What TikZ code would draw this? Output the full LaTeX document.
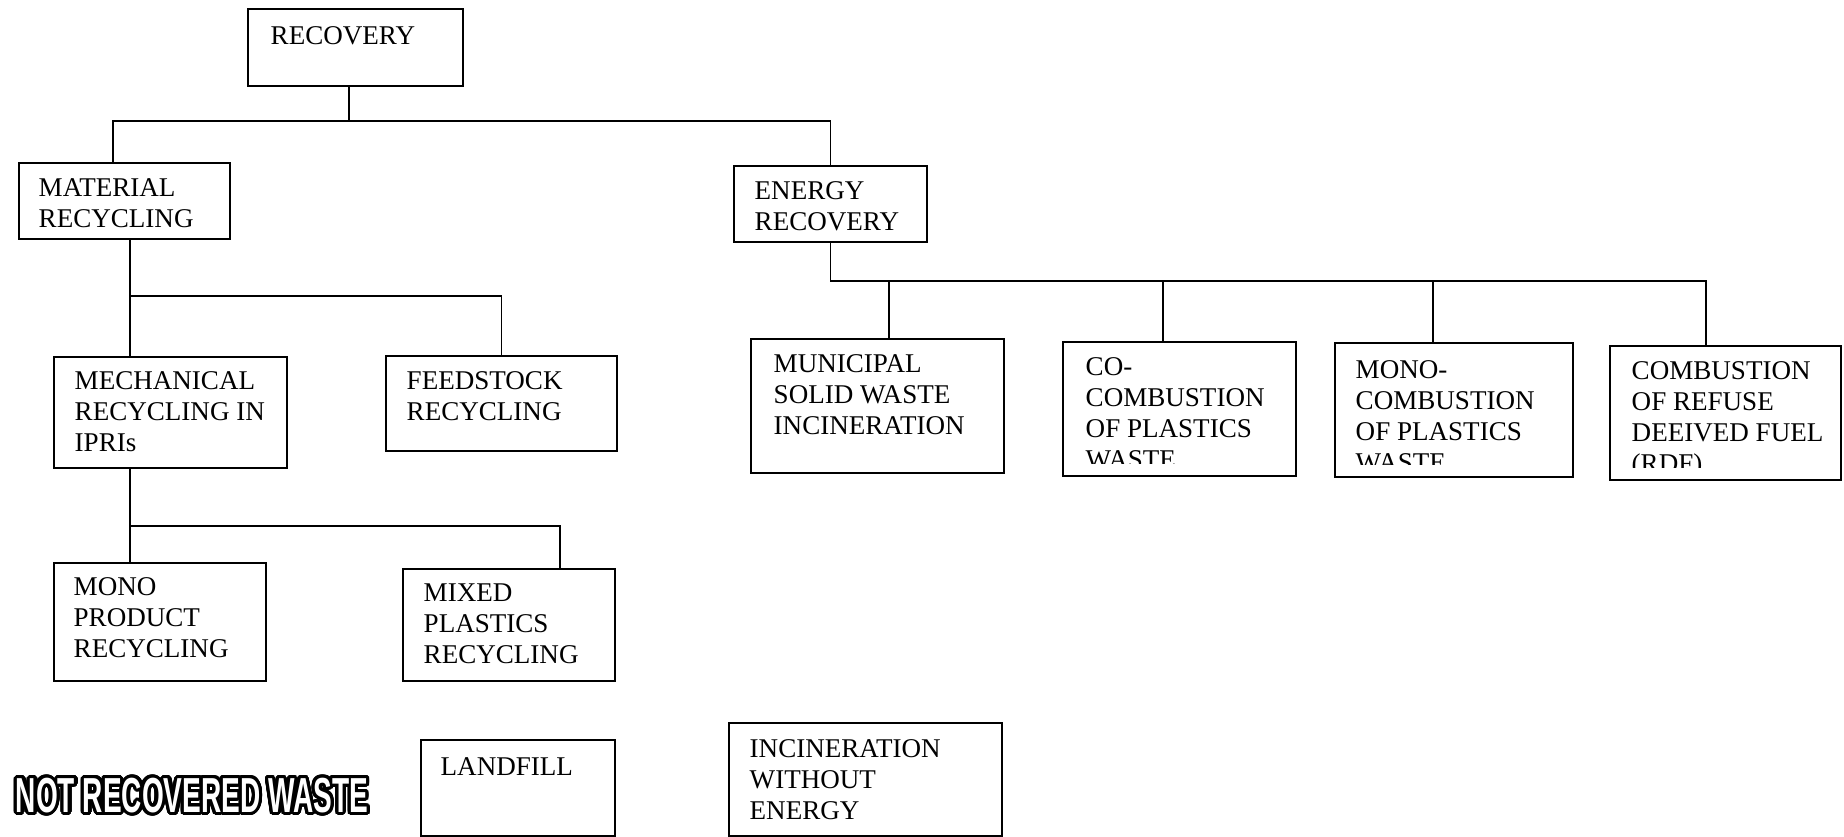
\documentclass[tikz,border=0pt]{standalone}
\usepackage{fontspec}
\usepackage{xcolor}
\usepackage[copies]{contour}
\usepackage{tikz}
\usetikzlibrary{positioning}
\setmainfont{Liberation Serif}
\newfontfamily\stampfont{Liberation Sans}[FakeStretch=0.57]
\contourlength{0.9pt}
\contournumber{32}

\tikzset{
	box/.style={draw=black, line width=0.55pt, anchor=north west, inner sep=0pt},
	lbl/.style={font=\fontsize{7.7pt}{8.8pt}\selectfont, align=left, inner sep=0pt},
	link/.style={black, line width=0.55pt},
}

\begin{document}
\begin{tikzpicture}
	\useasboundingbox (0,0) rectangle (18.44,8.37);

	% top of the tree
	\node[box, minimum width=2.15cm, minimum height=0.77cm] (rec) at (2.47,8.29) {};
	\node[lbl, below right=0.18cm and 0.23cm of rec.north west] (rec-t) {RECOVERY};

	\node[box, minimum width=2.11cm, minimum height=0.76cm] (mat) at (0.18,6.75) {};
	\node[lbl, below right=0.16cm and 0.20cm of mat.north west] (mat-t) {MATERIAL\\RECYCLING};
	\node[box, minimum width=1.93cm, minimum height=0.76cm] (ene) at (7.33,6.72) {};
	\node[lbl, below right=0.16cm and 0.21cm of ene.north west] (ene-t) {ENERGY\\RECOVERY};

	% material side
	\node[box, minimum width=2.33cm, minimum height=1.11cm] (mech) at (0.53,4.81) {};
	\node[lbl, below right=0.15cm and 0.21cm of mech.north west] (mech-t) {MECHANICAL\\RECYCLING IN\\IPRIs};
	\node[box, minimum width=2.31cm, minimum height=0.95cm] (feed) at (3.85,4.82) {};
	\node[lbl, below right=0.16cm and 0.21cm of feed.north west] (feed-t) {FEEDSTOCK\\RECYCLING};
	\node[box, minimum width=2.12cm, minimum height=1.18cm] (mono) at (0.53,2.75) {};
	\node[lbl, below right=0.15cm and 0.20cm of mono.north west] (mono-t) {MONO\\PRODUCT\\RECYCLING};
	\node[box, minimum width=2.12cm, minimum height=1.12cm] (mixed) at (4.02,2.69) {};
	\node[lbl, below right=0.15cm and 0.21cm of mixed.north west] (mixed-t) {MIXED\\PLASTICS\\RECYCLING};

	% energy side
	\node[box, minimum width=2.53cm, minimum height=1.34cm] (muni) at (7.50,4.99) {};
	\node[lbl, below right=0.16cm and 0.23cm of muni.north west] (muni-t) {MUNICIPAL\\SOLID WASTE\\INCINERATION};
	\node[box, minimum width=2.33cm, minimum height=1.34cm] (co) at (10.62,4.96) {};
	\begin{scope}
		\clip (co.north west) rectangle ([yshift=1.3mm]co.south east);
		\node[lbl, below right=0.16cm and 0.23cm of co.north west] (co-t) {CO-\\COMBUSTION\\OF PLASTICS\\WASTE};
	\end{scope}
	\node[box, minimum width=2.38cm, minimum height=1.34cm] (monoc) at (13.34,4.95) {};
	\begin{scope}
		\clip (monoc.north west) rectangle ([yshift=1.3mm]monoc.south east);
		\node[lbl, below right=0.18cm and 0.21cm of monoc.north west] (monoc-t) {MONO-\\COMBUSTION\\OF PLASTICS\\WASTE};
	\end{scope}
	\node[box, minimum width=2.31cm, minimum height=1.34cm] (rdf) at (16.09,4.92) {};
	\begin{scope}
		\clip (rdf.north west) rectangle ([yshift=1.3mm]rdf.south east);
		\node[lbl, below right=0.16cm and 0.22cm of rdf.north west] (rdf-t) {COMBUSTION\\OF REFUSE\\DEEIVED FUEL\\(RDF)};
	\end{scope}

	% not recovered
	\node[text=white, inner sep=0pt, font=\stampfont\bfseries\fontsize{14pt}{16pt}\selectfont] (notrec) at (1.92,0.40) {\contour{black}{NOT RECOVERED WASTE}};
	\node[box, minimum width=1.94cm, minimum height=0.96cm] (land) at (4.20,0.98) {};
	\node[lbl, below right=0.18cm and 0.20cm of land.north west] (land-t) {LANDFILL};
	\node[box, minimum width=2.73cm, minimum height=1.13cm] (incin) at (7.28,1.15) {};
	\node[lbl, below right=0.17cm and 0.21cm of incin.north west] (incin-t) {INCINERATION\\WITHOUT\\ENERGY};

	% bus lines
	\coordinate (busA) at (0,7.16);
	\coordinate (busB) at (0,5.41);
	\coordinate (busC) at (0,3.11);
	\coordinate (busD) at (0,5.56);

	\draw[link] ([xshift=-0.65mm]rec.south) -- ([xshift=-0.65mm]rec.south |- busA);
	\draw[link] ([xshift=-1.15mm]mat.north) |- (busA -| ene.north) -- (ene.north);

	\draw[link] ([xshift=0.55mm]mat.south) |- (busB -| feed.north) -- (feed.north);
	\draw[link] ([xshift=0.55mm]mat.south |- busB) -- ([xshift=0.55mm]mat.south |- mech.north);

	\draw[link] ([xshift=-4.05mm]mech.south) -- ([xshift=-4.05mm]mech.south |- mono.north);
	\draw[link] ([xshift=-4.05mm]mech.south |- busC) -| ([xshift=5.1mm]mixed.north);

	\draw[link] (ene.south) |- ([xshift=-1.95mm]rdf.north |- busD) -- ([xshift=-1.95mm]rdf.north);
	\draw[link] ([xshift=1.15mm]muni.north) -- ([xshift=1.15mm]muni.north |- busD);
	\draw[link] ([xshift=-1.65mm]co.north) -- ([xshift=-1.65mm]co.north |- busD);
	\draw[link] ([xshift=-2.1mm]monoc.north) -- ([xshift=-2.1mm]monoc.north |- busD);
\end{tikzpicture}
\end{document}
